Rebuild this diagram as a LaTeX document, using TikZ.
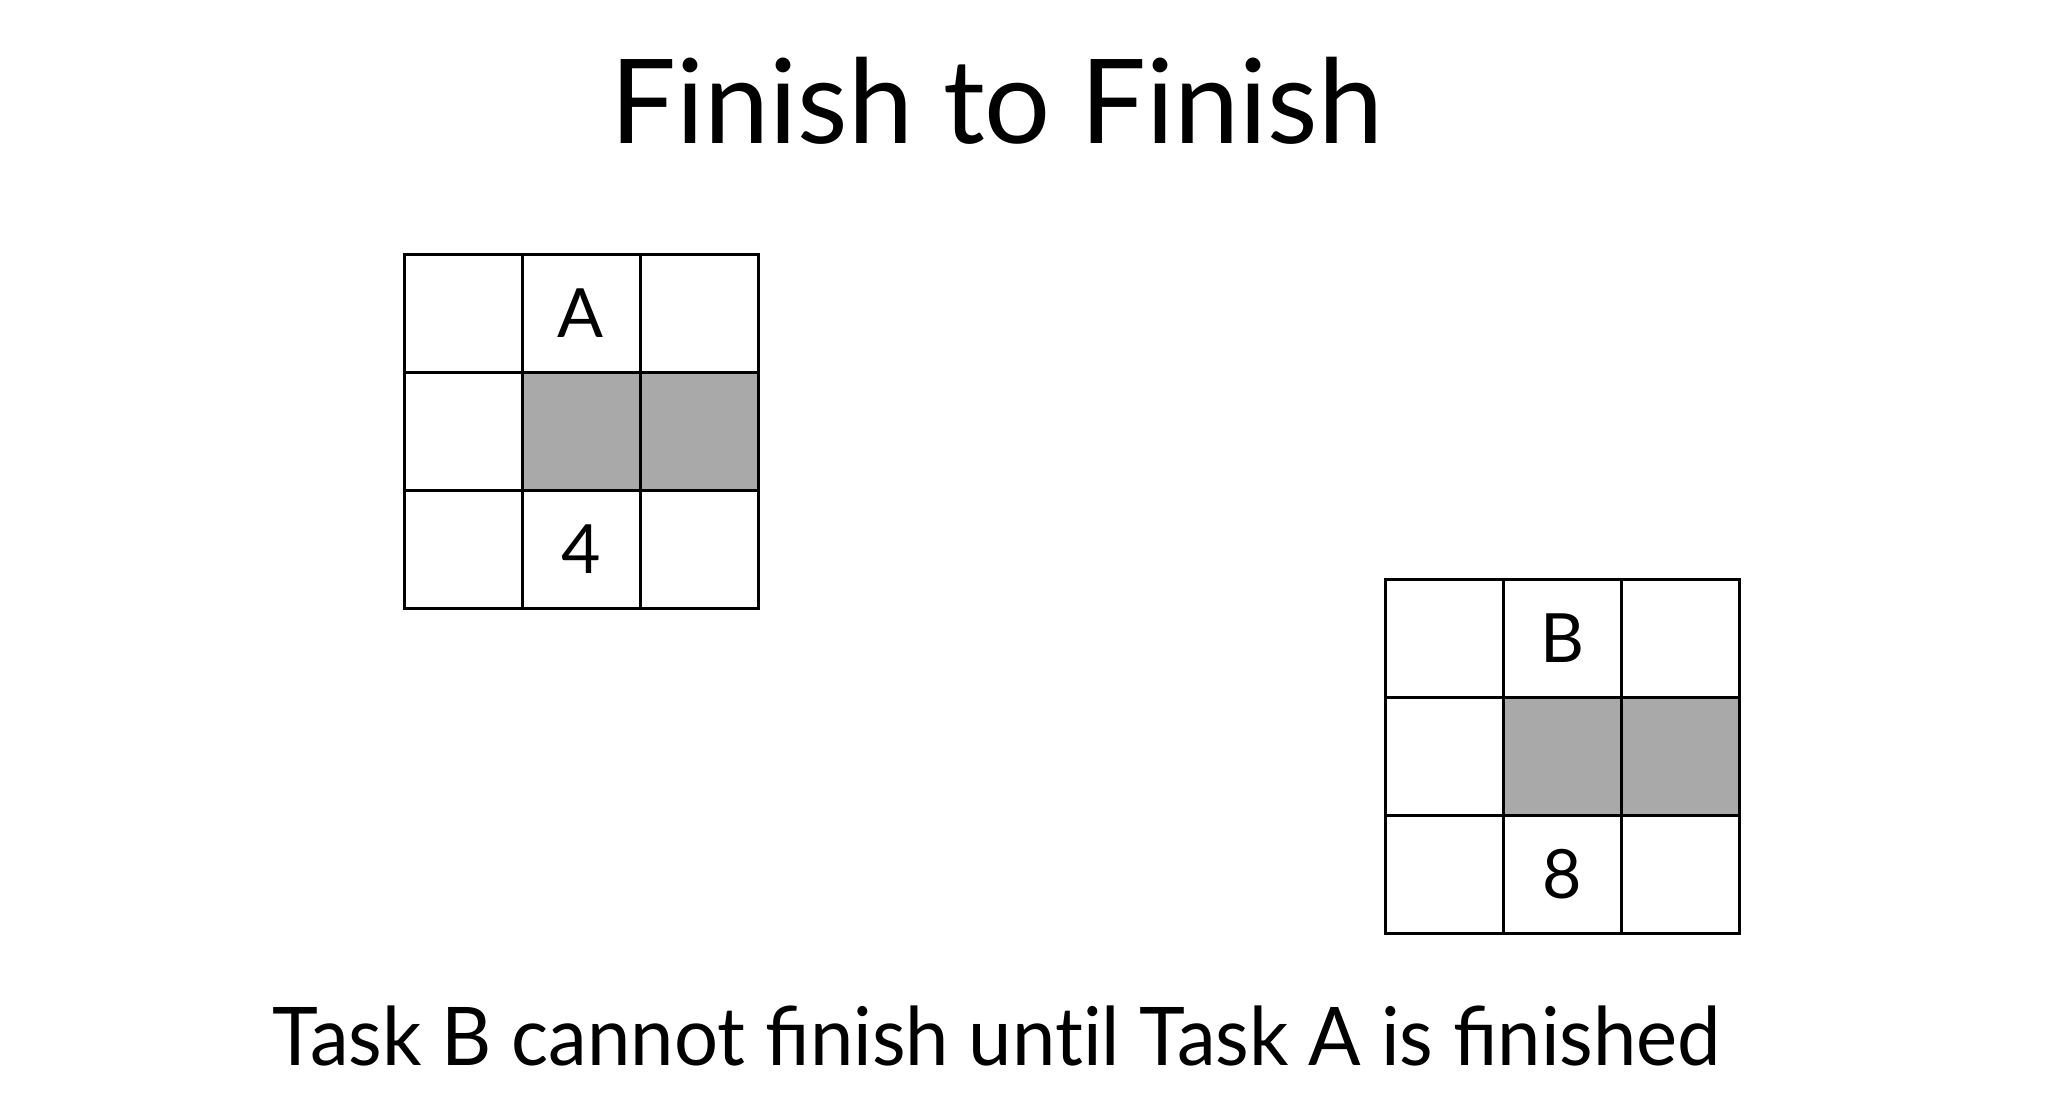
\documentclass[tikz,border=0pt]{standalone}
\usepackage{fontspec}
\setmainfont{Lato}
\usepackage{graphicx}
\definecolor{cellgray}{RGB}{169,169,169}
\tikzset{
  cell/.style={draw=black, line width=1.5bp, minimum size=59bp, inner sep=0pt, outer sep=0pt,
    font=\fontsize{34bp}{40bp}\selectfont},
  shaded/.style={cell, fill=cellgray},
  titletext/.style={anchor=base, inner sep=0pt},
}
\begin{document}
\begin{tikzpicture}[x=0.5bp, y=-0.5bp]
\useasboundingbox[fill=white] (0,0) rectangle (2071,1113);
% title
\node[titletext] (title) at (997,143)
  {\resizebox{386bp}{\height}{\fontsize{58.6bp}{70bp}\selectfont Finish to Finish}};
% grid A
\node[cell]   (A11) at (463,313) {};
\node[cell]   (A12) at (581,313) {A};
\node[cell]   (A13) at (699,313) {};
\node[cell]   (A21) at (463,431) {};
\node[shaded] (A22) at (581,431) {};
\node[shaded] (A23) at (699,431) {};
\node[cell]   (A31) at (463,549) {};
\node[cell]   (A32) at (581,549) {4};
\node[cell]   (A33) at (699,549) {};
% grid B
\node[cell]   (B11) at (1444,638) {};
\node[cell]   (B12) at (1562,638) {B};
\node[cell]   (B13) at (1680,638) {};
\node[cell]   (B21) at (1444,756) {};
\node[shaded] (B22) at (1562,756) {};
\node[shaded] (B23) at (1680,756) {};
\node[cell]   (B31) at (1444,874) {};
\node[cell]   (B32) at (1562,874) {8};
\node[cell]   (B33) at (1680,874) {};
% caption
\node[titletext] (caption) at (997,1065)
  {\resizebox{724bp}{\height}{\fontsize{40.5bp}{48bp}\selectfont Task B cannot finish unt\kern0pt il Task A is finished}};
\end{tikzpicture}
\end{document}
